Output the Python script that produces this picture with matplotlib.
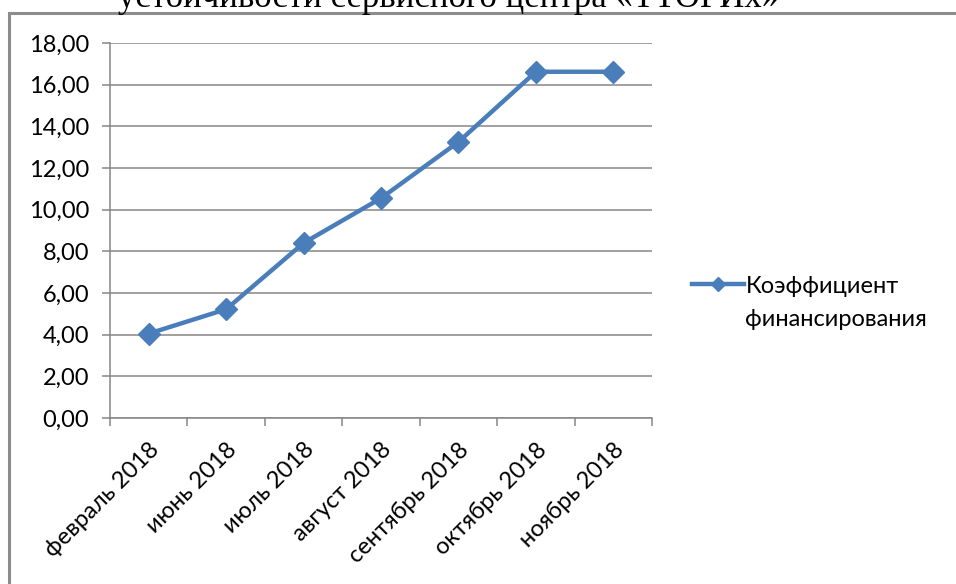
import matplotlib
matplotlib.use("Agg")
import matplotlib.pyplot as plt
from matplotlib.patches import Rectangle
from matplotlib.ticker import FixedLocator, FuncFormatter

categories = ["февраль 2018", "июнь 2018", "июль 2018", "август 2018",
              "сентябрь 2018", "октябрь 2018", "ноябрь 2018"]
values = [4.05, 5.22, 8.40, 10.55, 13.25, 16.62, 16.62]
series_line1 = "Коэффициент"
series_line2 = "финансирования"
title_text = "устойчивости сервисного центра «ТТОРИх»"

W, H = 956, 584
fig = plt.figure(figsize=(W / 100, H / 100), dpi=100)
fig.patch.set_facecolor("white")

# outer chart frame
fig.patches.append(Rectangle((9 / W, -0.05), 1.2, 1 - 13 / H + 0.05,
                             transform=fig.transFigure, fill=False,
                             edgecolor="#8c8c8c", linewidth=2.2))

# clipped heading above the frame
fig.text(118 / W, 1 - 7 / H, title_text, family="Liberation Serif",
         fontsize=25, va="baseline", ha="left", color="black")

ax = fig.add_axes([110 / W, 1 - 418 / H, 542 / W, 375 / H])
x = list(range(len(categories)))
ax.plot(x, values, color="#4A7EBB", linewidth=3.2, marker="D",
        markersize=11, markerfacecolor="#4A7EBB", markeredgecolor="#4A7EBB",
        label=series_line1, solid_joinstyle="round")

ax.set_xlim(-0.5, len(categories) - 0.5)
ax.set_ylim(0, 18)
ax.set_yticks([0, 2, 4, 6, 8, 10, 12, 14, 16, 18])
ax.yaxis.set_major_formatter(FuncFormatter(lambda v, p: f"{v:.2f}".replace(".", ",")))
ax.grid(axis="y", color="#868686", linewidth=1.1)
ax.set_axisbelow(True)

FONT = "Lato"
FS = 17
ax.xaxis.set_major_locator(FixedLocator([i - 0.5 for i in range(len(categories) + 1)]))
ax.xaxis.set_minor_locator(FixedLocator(x))
ax.set_xticklabels([])
ax.set_xticklabels(categories, minor=True, rotation=45, ha="right",
                   rotation_mode="anchor", family=FONT, fontsize=FS)
ax.tick_params(axis="x", which="major", length=6, color="#868686", width=1.1)
ax.tick_params(axis="x", which="minor", length=0, pad=15)
ax.tick_params(axis="y", length=6, color="#868686", width=1.1, pad=9)
for lab in ax.get_yticklabels():
    lab.set_family(FONT)
    lab.set_fontsize(FS)

for s in ["top", "right"]:
    ax.spines[s].set_visible(False)
for s in ["left", "bottom"]:
    ax.spines[s].set_color("#868686")
    ax.spines[s].set_linewidth(1.1)

leg = ax.legend(loc="center left", bbox_to_anchor=(680 / W, 1 - 286 / H),
                bbox_transform=fig.transFigure, frameon=False,
                prop={"family": FONT, "size": FS}, handlelength=2.2,
                handletextpad=0.1, markerscale=0.65, borderpad=0)
fig.text(745 / W, 1 - 319 / H, series_line2, family=FONT, fontsize=FS,
         va="center", ha="left")

fig.savefig("out.png", dpi=100)
